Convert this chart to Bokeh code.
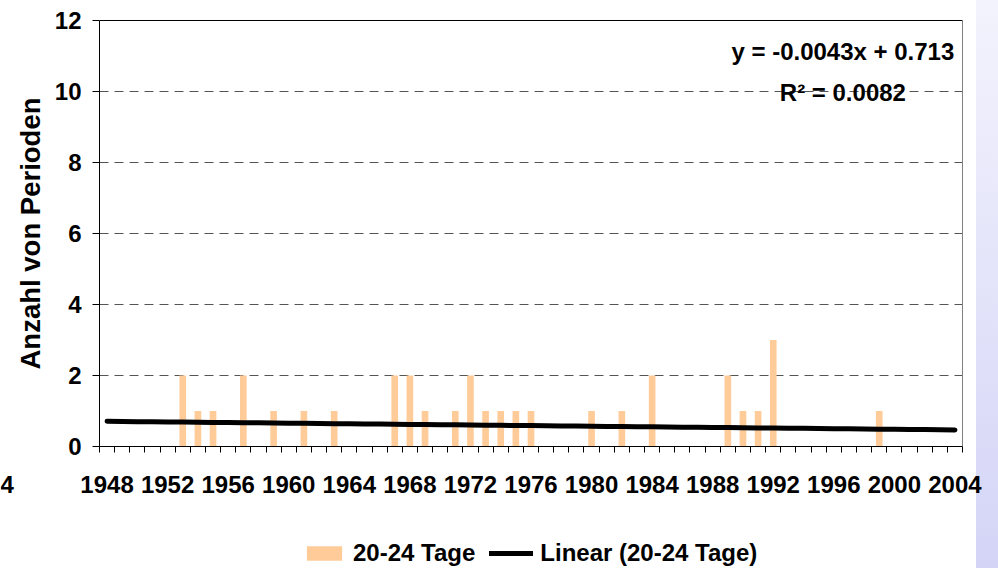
import math
from bokeh.plotting import figure
from bokeh.models import (FixedTicker, Legend, LegendItem, Label,
                          Range1d, ColumnDataSource)
from bokeh.embed import file_html
from bokeh.resources import INLINE

# ---- data ----
years = list(range(1948, 2005))
counts = (
    [0, 0]                                   # 1948-1949
    + [0, 0, 0, 2, 1, 1, 0, 2, 0, 1]         # 1950-1959
    + [0, 1, 0, 1, 0, 0, 0, 2, 2, 1]         # 1960-1969
    + [0, 1, 2, 1, 1, 1, 1, 0, 0, 0]         # 1970-1979
    + [1, 0, 1, 0, 2, 0, 0, 0, 0, 2]         # 1980-1989
    + [1, 1, 3, 0, 0, 0, 0, 0, 0, 1]         # 1990-1999
    + [0, 0, 0, 0, 0]                        # 2000-2004
)
label_years = years[::4]
y_ticks = [0, 2, 4, 6, 8, 10, 12]
series_name = "20-24 Tage"
trend_name = "Linear (20-24 Tage)"
TREND_SLOPE = -0.0043
TREND_INTERCEPT = 0.713
eq_text = "y = -0.0043x + 0.713"
r2_text = "R\u00b2 = 0.0082"
y_label = "Anzahl von Perioden"
stray_text = "4"   # clipped label fragment at the far left of the original

trend = [TREND_SLOPE * (i + 1) + TREND_INTERCEPT for i in range(len(years))]

FONT = "Liberation Sans"
FS = "24px"
W, H = 998, 568

# ---- geometry: the frame covers the whole canvas; axes are fixed inside ----
X0, X1 = years[0] - 0.5, years[-1] + 0.5      # category extent
Y0, Y1 = 0, 12                                 # value extent
PX_X = 863 / (X1 - X0)                         # pixels per year
PX_Y = 426 / (Y1 - Y0)                         # pixels per unit
x_range = Range1d(X0 - 99 / PX_X, X1 + 36 / PX_X)
y_range = Range1d(Y0 - 122 / PX_Y, Y1 + 20 / PX_Y)

src = ColumnDataSource(dict(year=years, count=counts))

p = figure(width=W, height=H, output_backend="svg", toolbar_location=None,
           title=None, x_range=x_range, y_range=y_range,
           min_border_left=0, min_border_right=0,
           min_border_top=0, min_border_bottom=0)
p.background_fill_alpha = 0
p.border_fill_alpha = 0
p.outline_line_color = None
p.xgrid.visible = False
p.ygrid.visible = False
# lavender strip at the right edge of the page
p.styles = {
    "background": "linear-gradient(to bottom, #f3f3fd, #d4d4f7) right top / 22px 100% no-repeat, #ffffff"
}

# dashed horizontal gridlines, limited to the plot area
grid_y = y_ticks[1:-1]
p.segment(x0=[X0] * len(grid_y), y0=grid_y, x1=[X1] * len(grid_y), y1=grid_y,
          line_color="#555555", line_width=1, line_dash="9 6")

# plot-area frame (top and right sides)
p.segment(x0=[X0], y0=[Y1], x1=[X1], y1=[Y1], line_color="black", line_width=1)
p.segment(x0=[X1], y0=[Y0], x1=[X1], y1=[Y1], line_color="#808080", line_width=1)

bars = p.vbar(x="year", top="count", width=0.44, source=src,
              fill_color="#FFCC99", line_color=None)
line = p.line(years, trend, line_width=5, line_color="black", line_cap="round")

# x axis fixed at y = 0
xa = p.xaxis[0]
xa.fixed_location = Y0
xa.bounds = (X0, X1)
xa.ticker = FixedTicker(ticks=label_years,
                        minor_ticks=[y - 0.5 for y in years] + [X1])
xa.major_tick_in = 0
xa.major_tick_out = 0
xa.minor_tick_in = 0
xa.minor_tick_out = 6
xa.minor_tick_line_color = "black"
xa.axis_line_color = "black"
xa.major_label_standoff = 23
xa.major_label_text_font = FONT
xa.major_label_text_font_style = "bold"
xa.major_label_text_font_size = FS
xa.major_label_text_color = "black"

# y axis fixed at the first category edge
ya = p.yaxis[0]
ya.fixed_location = X0
ya.bounds = (Y0, Y1)
ya.ticker = FixedTicker(ticks=y_ticks)
ya.major_tick_in = 0
ya.major_tick_out = 7
ya.minor_tick_line_color = None
ya.axis_line_color = "black"
ya.major_tick_line_color = "black"
ya.major_label_standoff = 11
ya.major_label_text_font = FONT
ya.major_label_text_font_style = "bold"
ya.major_label_text_font_size = FS
ya.major_label_text_color = "black"

# y axis title, centred on the 0..12 extent
p.add_layout(Label(x=X0 - 69 / PX_X, y=(Y0 + Y1) / 2, text=y_label,
                   angle=math.pi / 2, text_align="center", text_baseline="middle",
                   text_font=FONT, text_font_style="bold",
                   text_font_size="27.5px", text_color="black"))

# stray fragment seen at the left edge of the original
p.add_layout(Label(x=X0 - 99 / PX_X, y=Y0 - 38 / PX_Y, text=stray_text,
                   text_align="left", text_baseline="middle",
                   text_font=FONT, text_font_style="bold",
                   text_font_size=FS, text_color="black"))

# trend equation
for txt, yy in ((eq_text, 11.12), (r2_text, 9.97)):
    p.add_layout(Label(x=1996.6, y=yy, text=txt, text_align="center",
                       text_baseline="middle", text_font=FONT,
                       text_font_style="bold", text_font_size=FS,
                       text_color="black"))

# legend under the chart
legend = Legend(items=[LegendItem(label=series_name, renderers=[bars]),
                       LegendItem(label=trend_name, renderers=[line])],
                orientation="horizontal", location=(302, 1),
                glyph_width=44, glyph_height=18, label_standoff=7, spacing=14,
                padding=0, margin=0, border_line_color=None,
                background_fill_alpha=0,
                label_text_font=FONT, label_text_font_style="bold",
                label_text_font_size=FS, label_text_color="black")
p.add_layout(legend)

open("out.html", "w").write(file_html(p, INLINE))
